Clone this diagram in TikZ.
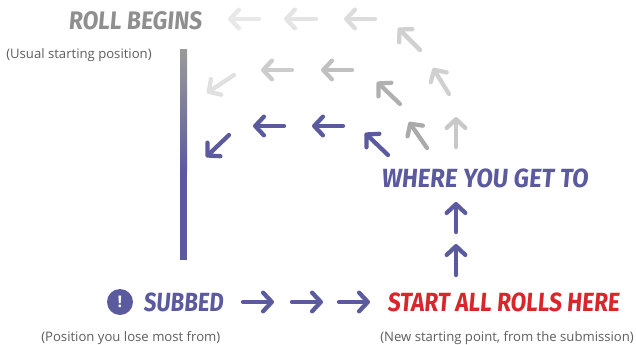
\documentclass[tikz,border=0pt]{standalone}
\usepackage{fontspec}
\usepackage{graphicx}
\setmainfont{Open Sans}
\newfontfamily\brushfont{Fira Sans}[BoldFeatures={FakeSlant=0.1}]
\usetikzlibrary{arrows.meta}
\definecolor{rollblue}{HTML}{5B5A9F}
\definecolor{rollred}{HTML}{D9262B}
\definecolor{notegrey}{HTML}{5E5E5E}
\definecolor{begingrey}{HTML}{8F8F8F}
\newcommand{\brushtext}[3]{\resizebox{#1pt}{#2pt}{\brushfont\bfseries #3}}
\tikzset{
  x=0.75pt,y=-0.75pt,
  rollarrow/.style={line width=3.2pt,line cap=round,
    -{Straight Barb[length=6.6pt,width=14pt,round,line width=3.2pt]}},
  note/.style={text=notegrey,font=\fontsize{9.85}{12}\selectfont,inner sep=0pt,anchor=west},
  brushlabel/.style={inner sep=0pt,anchor=west}
}
\begin{document}
\begin{tikzpicture}
\path[use as bounding box,fill=white] (0,0) rectangle (636,345);
% bar
\shade[top color=begingrey!90,bottom color=rollblue] (180,50) rectangle (187,172);
\fill[rollblue] (180,172) rectangle (187,260);
% grey arrows
\foreach \tx/\ty/\hx/\hy/\c in {
  259/19/228/19/232,316/19/284/19/228,375/19/344/19/220,
  420/50/398/28/208,449/94/433/68/208,456/147/456/117/200,
  427/148/409/122/170,400/104/377/82/176,352/70/321/70/192,
  292/70/261/70/204,234/75/207/93/224}{
  \definecolor{arrowgrey}{RGB}{\c,\c,\c}
  \draw[rollarrow,arrowgrey] (\tx,\ty) -- (\hx,\hy);
}
% blue arrows
\foreach \tx/\ty/\hx/\hy in {
  229/135/206/157,284/126/253/126,343/126/312/126,388/155/365/133,
  456/232/456/202,456/275/456/244,243/302/274/302,292/302/323/302,339/302/370/302}{
  \draw[rollarrow,rollblue] (\tx,\ty) -- (\hx,\hy);
}
% labels
\node[brushlabel,text=begingrey] (begins) at (68,21) {\brushtext{100}{13.5}{ROLL BEGINS}};
\node[note] (usual) at (6,55) {(Usual starting position)};
\node[brushlabel,text=rollblue] (where) at (381,178) {\brushtext{155}{14}{WHERE YOU GET TO}};
\node[circle,fill=rollblue,minimum size=19.5pt,inner sep=0pt] (warn) at (120,302) {};
\node[text=white,inner sep=0pt,font=\fontsize{12}{12}\selectfont\bfseries] (mark) at (warn.center) {!};
\node[brushlabel,text=rollblue] (subbed) at (143,302) {\brushtext{60}{14}{SUBBED}};
\node[brushlabel,text=rollred] (start) at (387,302) {\brushtext{174}{14}{START ALL ROLLS HERE}};
\node[note] (lose) at (41,338) {(Position you lose most from)};
\node[note] (new) at (380,338) {(New starting point, from the submission)};
\end{tikzpicture}
\end{document}
